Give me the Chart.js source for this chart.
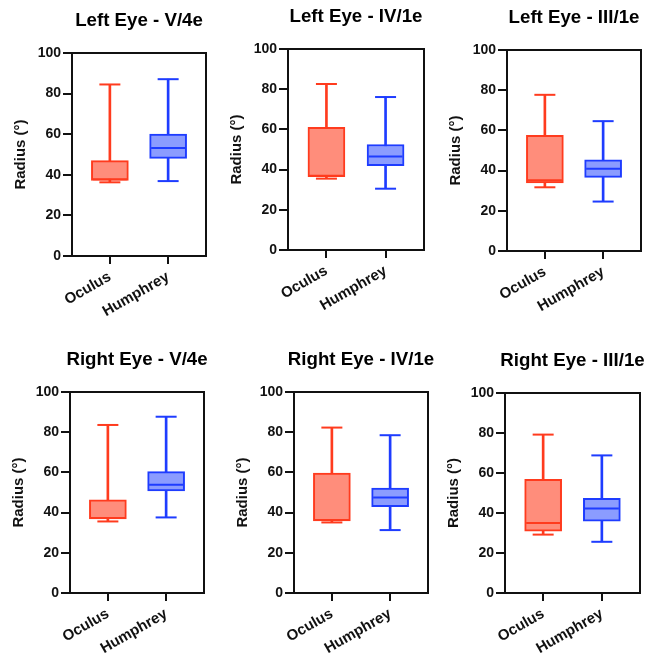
<!DOCTYPE html>
<html><head><meta charset="utf-8">
<script src="https://cdn.jsdelivr.net/npm/chart.js@4"></script>
<style>
html,body{margin:0;padding:0;background:#fff;}
body{width:647px;height:653px;position:relative;overflow:hidden;}
.p{position:absolute;}
</style></head><body>
<script>
// ---- data ----
const titles = ['Left Eye - V/4e', 'Left Eye - IV/1e', 'Left Eye - III/1e',
                'Right Eye - V/4e', 'Right Eye - IV/1e', 'Right Eye - III/1e'];
const categories = ['Oculus', 'Humphrey'];
const yTickValues = [0, 20, 40, 60, 80, 100];
const yAxisTitle = 'Radius (°)';
// each row: [Oculus, Humphrey]
const mins    = [[36.3, 36.9], [35.5, 30.5], [31.7, 24.6], [35.6, 37.6], [35.1, 31.3], [29.2, 25.6]];
const q1s     = [[37.2, 48.1], [36.5, 41.9], [33.9, 36.6], [36.9, 50.8], [35.9, 42.9], [30.9, 35.9]];
const medians = [[37.8, 53.2], [37.0, 46.5], [35.2, 40.9], [37.3, 53.8], [36.3, 47.5], [35.0, 42.2]];
const q3s     = [[47.0, 60.1], [61.0, 52.5], [57.5, 45.3], [46.4, 60.4], [59.6, 52.2], [56.8, 47.3]];
const maxs    = [[84.5, 87.1], [82.6, 76.1], [77.7, 64.6], [83.6, 87.7], [82.3, 78.5], [79.2, 68.8]];

// ---- layout (plot frame: left, top, right, bottom) ----
const frames = [[72, 53, 206, 256], [288, 49, 424, 250], [507, 50, 641, 251],
                [70, 392, 204, 593], [294, 392, 428, 593], [505, 393, 640, 593]];
const PAD_L = 8, YAX_W = 64, PAD_T = 53, PAD_R = 16, XAX_H = 70;

const RED = '#FF3B1E', RED_FILL = '#FF8D7B', BLUE = '#1E3CFF', BLUE_FILL = '#8B9CFF';
const INK = '#111111';
const FAMILY = "'Liberation Sans', Arial, Helvetica, sans-serif";
Chart.defaults.font.family = FAMILY;

const framePlugin = {
  id: 'frame',
  afterDatasetsDraw(chart) {
    const a = chart.chartArea, ctx = chart.ctx;
    ctx.save();
    ctx.strokeStyle = INK; ctx.lineWidth = 2;
    ctx.strokeRect(a.left, a.top, a.right - a.left, a.bottom - a.top);
    ctx.restore();
  },
  afterDraw(chart, args, opts) {
    const a = chart.chartArea, ctx = chart.ctx;
    ctx.save();
    ctx.fillStyle = '#000';
    ctx.font = 'bold 18.7px ' + FAMILY;
    ctx.textAlign = 'center'; ctx.textBaseline = 'middle';
    ctx.fillText(opts.title, (a.left + a.right) / 2, a.top - 32);
    ctx.restore();
  }
};

const catPos = categories.map((c, i) => i);
const pts = arr => catPos.map((x, i) => ({x, y: arr[i]}));
const rng = (a, b) => catPos.map((x, i) => ({x, y: [a[i], b[i]]}));

titles.forEach((title, p) => {
  const [fl, ft, fr, fb] = frames[p];
  const w = PAD_L + YAX_W + (fr - fl) + PAD_R;
  const h = PAD_T + (fb - ft) + XAX_H;
  const div = document.createElement('div');
  div.className = 'p';
  div.style.left = (fl - PAD_L - YAX_W) + 'px';
  div.style.top = (ft - PAD_T) + 'px';
  div.style.width = w + 'px';
  div.style.height = h + 'px';
  const cv = document.createElement('canvas');
  div.appendChild(cv);
  document.body.appendChild(div);

  const stroke = [RED, BLUE], fill = [RED_FILL, BLUE_FILL];
  const pointDs = (arr, r) => ({
    type: 'line', data: pts(arr), showLine: false, pointStyle: 'line',
    pointRadius: r, pointHoverRadius: r, pointBorderWidth: 2, pointHoverBorderWidth: 2,
    pointBorderColor: stroke, pointBackgroundColor: stroke, order: 0
  });

  new Chart(cv, {
    type: 'bar',
    data: {
      datasets: [
        pointDs(medians[p], 17),
        pointDs(mins[p], 10.5),
        pointDs(maxs[p], 10.5),
        {type: 'bar', data: rng(q1s[p], q3s[p]), backgroundColor: fill, borderColor: stroke,
         borderWidth: 2, borderSkipped: false, barThickness: 37, grouped: false, order: 1},
        {type: 'bar', data: rng(mins[p], maxs[p]), backgroundColor: stroke, borderWidth: 0,
         barThickness: 2, grouped: false, order: 2}
      ]
    },
    options: {
      responsive: true, maintainAspectRatio: false, animation: false, events: [],
      layout: {autoPadding: false, padding: {left: PAD_L, top: PAD_T, right: PAD_R, bottom: 0}},
      plugins: {legend: {display: false}, tooltip: {enabled: false}, title: {display: false},
                frame: {title}},
      scales: {
        x: {
          type: 'linear', min: -0.65, max: 1.65, offset: false,
          afterBuildTicks: s => { s.ticks = catPos.map(v => ({value: v})); },
          afterFit: s => { s.height = XAX_H; s.paddingLeft = 0; s.paddingRight = 0; },
          ticks: {callback: v => categories[v], minRotation: 30, maxRotation: 30, autoSkip: false,
                  font: {size: 15, weight: 'bold'}, color: INK, padding: 4},
          grid: {display: true, offset: false, drawOnChartArea: false, drawTicks: true, tickLength: 8, color: INK, lineWidth: 2},
          border: {display: false}
        },
        y: {
          min: 0, max: 100,
          afterBuildTicks: s => { s.ticks = yTickValues.map(v => ({value: v})); },
          afterFit: s => { s.width = YAX_W; s.paddingTop = 0; s.paddingBottom = 0; },
          ticks: {font: {size: 14, weight: 'bold'}, color: INK, padding: 2},
          grid: {display: true, drawOnChartArea: false, drawTicks: true, tickLength: 9, color: INK, lineWidth: 2},
          border: {display: false},
          title: {display: true, text: yAxisTitle, font: {size: 15, weight: 'bold'}, color: INK,
                  padding: {top: 4, bottom: 0}}
        }
      }
    },
    plugins: [framePlugin]
  });
});
</script>
</body></html>
